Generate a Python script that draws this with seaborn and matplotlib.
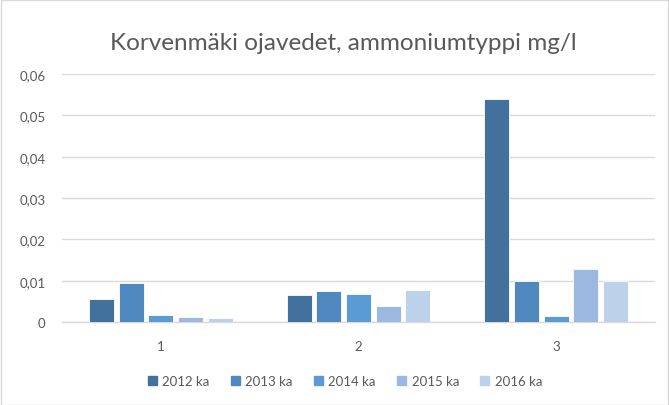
import numpy as np
import pandas as pd
import matplotlib.pyplot as plt
import seaborn as sns
from matplotlib.ticker import FuncFormatter
from matplotlib.patches import Rectangle

# data
categories = ['1', '2', '3']
years = ['2012 ka', '2013 ka', '2014 ka', '2015 ka', '2016 ka']
v2012 = [0.0056, 0.0065, 0.054]
v2013 = [0.0095, 0.0075, 0.0099]
v2014 = [0.0018, 0.0067, 0.0015]
v2015 = [0.0012, 0.0038, 0.0129]
v2016 = [0.0010, 0.0078, 0.0100]
colors = ['#41719C', '#4E88BF', '#5B9BD5', '#9BB9E0', '#BDD1EB']

rows = []
for year, vals in zip(years, [v2012, v2013, v2014, v2015, v2016]):
    for cat, v in zip(categories, vals):
        rows.append({'cat': cat, 'year': year, 'value': v})
df = pd.DataFrame(rows)

sns.set_style('white')
plt.rcParams['font.family'] = ['Lato', 'DejaVu Sans']
text_col = '#595959'
grid_col = '#D9D9D9'

fig = plt.figure(figsize=(6.69, 4.06), dpi=100)
ax = fig.add_axes([62 / 669, 1 - 323 / 406, 593 / 669, 248 / 406])

sns.barplot(data=df, x='cat', y='value', hue='year', palette=colors,
            order=categories, hue_order=years, width=0.75, gap=0.15,
            saturation=1, edgecolor='white', linewidth=0.6, ax=ax, zorder=3)

ax.set_ylim(0, 0.06)
ax.set_xlim(-0.5, 2.5)
ax.set_yticks(np.arange(0, 0.061, 0.01))
ax.yaxis.set_major_formatter(FuncFormatter(
    lambda v, p: '0' if v == 0 else f'{v:.2f}'.replace('.', ',')))
ax.grid(axis='y', color=grid_col, linewidth=1, zorder=0)
ax.set_axisbelow(True)
for s in ['top', 'right', 'left']:
    ax.spines[s].set_visible(False)
ax.spines['bottom'].set_color(grid_col)
ax.spines['bottom'].set_linewidth(1)
ax.tick_params(axis='both', length=0, labelsize=9.5, labelcolor=text_col)
ax.tick_params(axis='y', pad=12)
ax.tick_params(axis='x', pad=13)
ax.set_xlabel('')
ax.set_ylabel('')

ax.legend_.remove()
handles = [Rectangle((0, 0), 1, 1, color=c) for c in colors]
fig.legend(handles, years, loc='center', bbox_to_anchor=(345 / 669, 1 - 382 / 406),
           ncol=5, frameon=False, handlelength=0.7, handleheight=0.7,
           handletextpad=0.4, columnspacing=1.6, fontsize=9.5,
           labelcolor=text_col)

fig.text(343 / 669, 1 - 44 / 406, 'Korvenmäki ojavedet, ammoniumtyppi mg/l',
         ha='center', va='center', fontsize=17.5, color=text_col)

fig.patches.append(Rectangle((0.5 / 669, 0.5 / 406), 1 - 1.5 / 669, 1 - 1.5 / 406,
                             transform=fig.transFigure, fill=False,
                             edgecolor=grid_col, linewidth=1))

fig.savefig('out.png', dpi=100)
